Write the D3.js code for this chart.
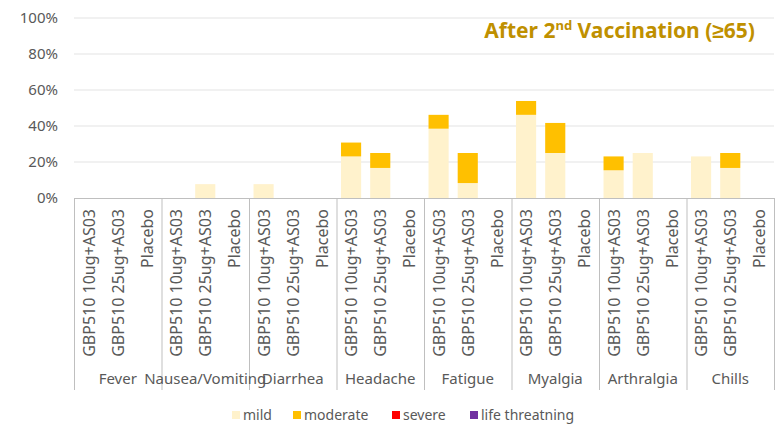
<!DOCTYPE html>
<html>
<head>
<meta charset="utf-8">
<script src="https://d3js.org/d3.v7.min.js"></script>
<style>
  body { margin: 0; background: #fff; }
  text { font-family: "Noto Sans", sans-serif; fill: #595959; }
</style>
</head>
<body>
<svg id="chart" width="777" height="429"></svg>
<script>
var categories = ["Fever", "Nausea/Vomiting", "Diarrhea", "Headache", "Fatigue", "Myalgia", "Arthralgia", "Chills"]
var groups = ["GBP510 10ug+AS03", "GBP510 25ug+AS03", "Placebo"]
// percent per category, in group order
var mild     = [[0,0,0],[0,7.7,0],[7.7,0,0],[23.1,16.7,0],[38.5,8.3,0],[46.2,25,0],[15.4,25,0],[23.1,16.7,0]]
var moderate = [[0,0,0],[0,0,0],[0,0,0],[7.7,8.3,0],[7.7,16.7,0],[7.7,16.7,0],[7.7,0,0],[0,8.3,0]]
var severe   = [[0,0,0],[0,0,0],[0,0,0],[0,0,0],[0,0,0],[0,0,0],[0,0,0],[0,0,0]]
var lifeThr  = [[0,0,0],[0,0,0],[0,0,0],[0,0,0],[0,0,0],[0,0,0],[0,0,0],[0,0,0]]
var severities = ["mild", "moderate", "severe", "life threatning"]
var yTicks = [0, 20, 40, 60, 80, 100]

var colors = ["#FFF2CC", "#FFC000", "#FF0000", "#7030A0"]
var plotLeft = 74, plotRight = 774, plotTop = 18, base = 198, boxBottom = 390

var svg = d3.select("#chart")

var x = d3.scaleBand().domain(categories).range([plotLeft, plotRight])
var xi = d3.scaleBand().domain(groups).range([0, x.bandwidth()]).paddingInner(0.31).paddingOuter(0.155)
var y = d3.scaleLinear().domain([0, 100]).range([base, plotTop])
var color = d3.scaleOrdinal().domain(severities).range(colors)

// gridlines
svg.append("g").selectAll("line")
  .data(yTicks.filter(function(d) { return d > 0 }))
  .enter().append("line")
    .attr("x1", plotLeft).attr("x2", plotRight)
    .attr("y1", function(d) { return y(d) }).attr("y2", function(d) { return y(d) })
    .attr("stroke", "#e3e3e3").attr("stroke-width", 1)

// y labels
var yAxis = d3.axisLeft(y).tickValues(yTicks).tickFormat(function(d) { return d + "%" }).tickSize(0).tickPadding(16)
var ya = svg.append("g").attr("transform", "translate(" + plotLeft + ",0)").call(yAxis)
ya.select(".domain").remove()
ya.selectAll("text").attr("font-family", null).attr("font-size", null).style("font-size", "15px")

// flatten rows
var rows = []
categories.forEach(function(c, i) {
  groups.forEach(function(g, j) {
    rows.push({cat: c, grp: g, "mild": mild[i][j], "moderate": moderate[i][j], "severe": severe[i][j], "life threatning": lifeThr[i][j]})
  })
})
var stack = d3.stack().keys(severities)(rows)

svg.append("g").selectAll("g")
  .data(stack)
  .enter().append("g")
    .attr("fill", function(d) { return color(d.key) })
  .selectAll("rect")
  .data(function(d) { return d })
  .enter().append("rect")
    .attr("x", function(d) { return x(d.data.cat) + xi(d.data.grp) })
    .attr("width", xi.bandwidth())
    .attr("y", function(d) { return y(d[1]) })
    .attr("height", function(d) { return y(d[0]) - y(d[1]) })

// x axis box
var axisG = svg.append("g").attr("stroke", "#bfbfbf").attr("stroke-width", 1)
axisG.append("line").attr("x1", plotLeft).attr("x2", plotRight).attr("y1", base + 0.5).attr("y2", base + 0.5)
axisG.selectAll(".div")
  .data(categories.concat(["end"]))
  .enter().append("line")
    .attr("x1", function(d) { return (d == "end" ? plotRight : x(d)) + 0.5 })
    .attr("x2", function(d) { return (d == "end" ? plotRight : x(d)) + 0.5 })
    .attr("y1", base).attr("y2", boxBottom)

// group labels (rotated)
categories.forEach(function(c) {
  svg.append("g").selectAll("text")
    .data(groups)
    .enter().append("text")
      .attr("transform", function(g) {
        return "translate(" + (x(c) + xi(g) + xi.bandwidth() / 2 + 6) + "," + (base + 11) + ") rotate(-90)"
      })
      .attr("text-anchor", "end")
      .style("font-size", "16px")
      .text(function(g) { return g })
})

// category labels
svg.append("g").selectAll("text")
  .data(categories)
  .enter().append("text")
    .attr("x", function(d) { return x(d) + x.bandwidth() / 2 })
    .attr("y", 384)
    .attr("text-anchor", "middle")
    .style("font-size", "15px")
    .text(function(d) { return d })

// title
var title = svg.append("text")
  .attr("x", 755).attr("y", 38)
  .attr("text-anchor", "end")
  .style("font-size", "21px").style("font-weight", "bold")
  .style("fill", "#BF9000")
title.append("tspan").text("After 2")
title.append("tspan").attr("dy", -8).style("font-size", "13px").text("nd")
title.append("tspan").attr("dy", 8).text(" Vaccination (\u226565)")

// legend
var legendX = [232, 293, 392, 470]
var legend = svg.append("g").selectAll("g")
  .data(severities)
  .enter().append("g")
    .attr("transform", function(d, i) { return "translate(" + legendX[i] + ",415)" })
legend.append("rect").attr("x", 0).attr("y", -4).attr("width", 8).attr("height", 8)
  .attr("fill", function(d) { return color(d) })
legend.append("text").attr("x", 11).attr("y", 5).style("font-size", "14px").text(function(d) { return d })
</script>
</body>
</html>
